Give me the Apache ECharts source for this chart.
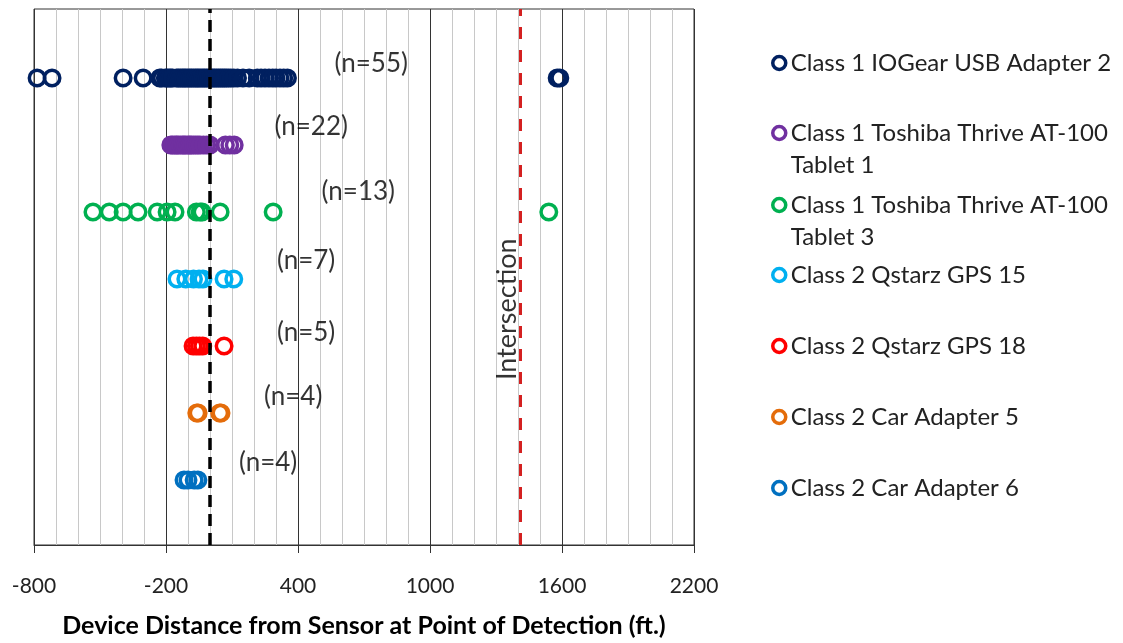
<!DOCTYPE html>
<html>
<head>
<meta charset="utf-8">
<script src="https://cdn.jsdelivr.net/npm/echarts@6/dist/echarts.min.js"></script>
<style>
  html, body { margin: 0; padding: 0; background: #fff; }
  #chart { width: 1123px; height: 643px; }
</style>
</head>
<body>
<div id="chart"></div>
<script>
// Detection distances (ft) for each device, one row per device
const deviceNames = [
  'Class 1 IOGear USB Adapter 2',
  'Class 1 Toshiba Thrive AT-100\nTablet 1',
  'Class 1 Toshiba Thrive AT-100\nTablet 3',
  'Class 2 Qstarz GPS 15',
  'Class 2 Qstarz GPS 18',
  'Class 2 Car Adapter 5',
  'Class 2 Car Adapter 6'
];
const deviceColors = ['#002060', '#7030A0', '#00B050', '#00B0F0', '#FF0000', '#E46C0A', '#0070C0'];
const rowLevel = [7, 6, 5, 4, 3, 2, 1];

const iogear2 = [
  -786, -718, -395, -304,
  -228, -220, -203, -195, -186, -178, -170, -152, -144, -135,
  -126, -118, -110, -101, -92, -84, -75, -66, -58, -50,
  -41, -32, -24, -15, -6, 3, 12, 20, 29, 38,
  47, 56, 65, 74, 84, 95, 108, 125, 150, 178,
  215, 232, 250, 268, 285, 300, 318, 335, 352,
  1578, 1590
];
const toshiba1 = [
  -178, -170, -160, -152, -145, -135, -125, -118, -110, -100, -92,
  -85, -75, -65, -55, -45, -30, -15, 0, 70, 90, 110
];
const toshiba3 = [-532, -458, -395, -327, -240, -195, -159, -62, -45, -36, 46, 287, 1540];
const qstarz15 = [-150, -110, -75, -50, -32, 64, 108];
const qstarz18 = [-77, -62, -48, -33, 64];
const carAdapter5 = [-60, -54, 44, 50];
const carAdapter6 = [-118, -100, -72, -55];
const deviceData = [iogear2, toshiba1, toshiba3, qstarz15, qstarz18, carAdapter5, carAdapter6];

// Count labels: [x, y] anchor of each "(n=…)" text
const countLabelPos = [[733, 7.22], [460, 6.28], [674, 5.30], [437, 4.27], [437, 3.20], [378, 2.25], [264, 1.26]];

// Reference lines
const sensorLine = 0;
const intersectionLine = 1412;
const intersectionLabelPos = [1352, 3.55];

// Axis ticks
const xMin = -800, xMax = 2200, xStep = 600, xMinorSplit = 6;

const FONT = 'Lato, "Open Sans", sans-serif';

const chart = echarts.init(document.getElementById('chart'), null, { renderer: 'canvas' });

const series = deviceNames.map((name, i) => ({
  name: name,
  type: 'scatter',
  symbol: 'circle',
  symbolSize: 15.5,
  data: deviceData[i].map(v => [v, rowLevel[i]]),
  itemStyle: { color: 'rgba(255,255,255,0)', borderColor: deviceColors[i], borderWidth: 3.5, opacity: 1 },
  emphasis: { disabled: true },
  z: 3
}));

// Dashed reference lines
series[0].markLine = {
  silent: true,
  symbol: 'none',
  label: { show: false },
  emphasis: { disabled: true },
  data: [
    { xAxis: sensorLine, lineStyle: { color: '#000', width: 3.5, type: [12, 7] } },
    { xAxis: intersectionLine, lineStyle: { color: '#D42020', width: 3, type: [12, 11] } }
  ]
};

// Text annotations: counts per device and the intersection label
series.push({
  name: 'counts',
  type: 'scatter',
  symbolSize: 0,
  silent: true,
  data: countLabelPos.map((p, i) => ({ value: p, label: { formatter: '(n=' + deviceData[i].length + ')' } })),
  label: { show: true, position: 'inside', color: '#000', fontFamily: FONT, fontSize: 26 },
  z: 4
});
series.push({
  name: 'intersection',
  type: 'scatter',
  symbolSize: 0,
  silent: true,
  data: [{ value: intersectionLabelPos }],
  label: { show: true, position: 'inside', formatter: 'Intersection', rotate: 90, color: '#000', fontFamily: FONT, fontSize: 27 },
  z: 4
});

// One legend block per device; two-line names get a blank lead line so the icon sits on the first text line
const legendCenters = [63, 133, 205, 275, 346, 417, 488];
const LH = 32;
const legends = deviceNames.map((name, i) => {
  const twoLine = name.indexOf('\n') >= 0;
  return {
    data: [name],
    orient: 'vertical',
    left: 771,
    top: legendCenters[i] - (twoLine ? 1.5 * LH : LH / 2),
    padding: 0,
    icon: 'circle',
    itemWidth: 13,
    itemHeight: 13,
    itemGap: 0,
    selectedMode: false,
    formatter: n => (twoLine ? ' \n' : '') + n,
    itemStyle: { color: '#fff', borderColor: deviceColors[i], borderWidth: 3.5 },
    textStyle: { color: '#222', fontFamily: FONT, fontSize: 24, lineHeight: LH }
  };
});

chart.setOption({
  animation: false,
  backgroundColor: '#fff',
  grid: { left: 34, top: 9, width: 660, height: 550, show: true, borderColor: '#333', borderWidth: 1, backgroundColor: 'transparent' },
  legend: legends,
  xAxis: {
    type: 'value',
    min: xMin,
    max: xMax,
    interval: xStep,
    name: 'Device Distance from Sensor at Point of Detection (ft.)',
    nameLocation: 'middle',
    nameGap: 68,
    nameTextStyle: { color: '#000', fontFamily: FONT, fontSize: 25, fontWeight: 'bold' },
    axisLine: { show: true, lineStyle: { color: '#333', width: 1 } },
    axisTick: { show: true, length: 8, lineStyle: { color: '#333' } },
    axisLabel: { color: '#222', fontFamily: FONT, fontSize: 21, margin: 31, formatter: v => String(v) },
    splitLine: { show: true, lineStyle: { color: '#333', width: 1 } },
    minorTick: { show: false, splitNumber: xMinorSplit },
    minorSplitLine: { show: true, lineStyle: { color: '#c8c8c8', width: 1 } }
  },
  yAxis: {
    type: 'value',
    min: 0.03,
    max: 8.03,
    show: false,
    splitLine: { show: false }
  },
  series: series
});
</script>
</body>
</html>
